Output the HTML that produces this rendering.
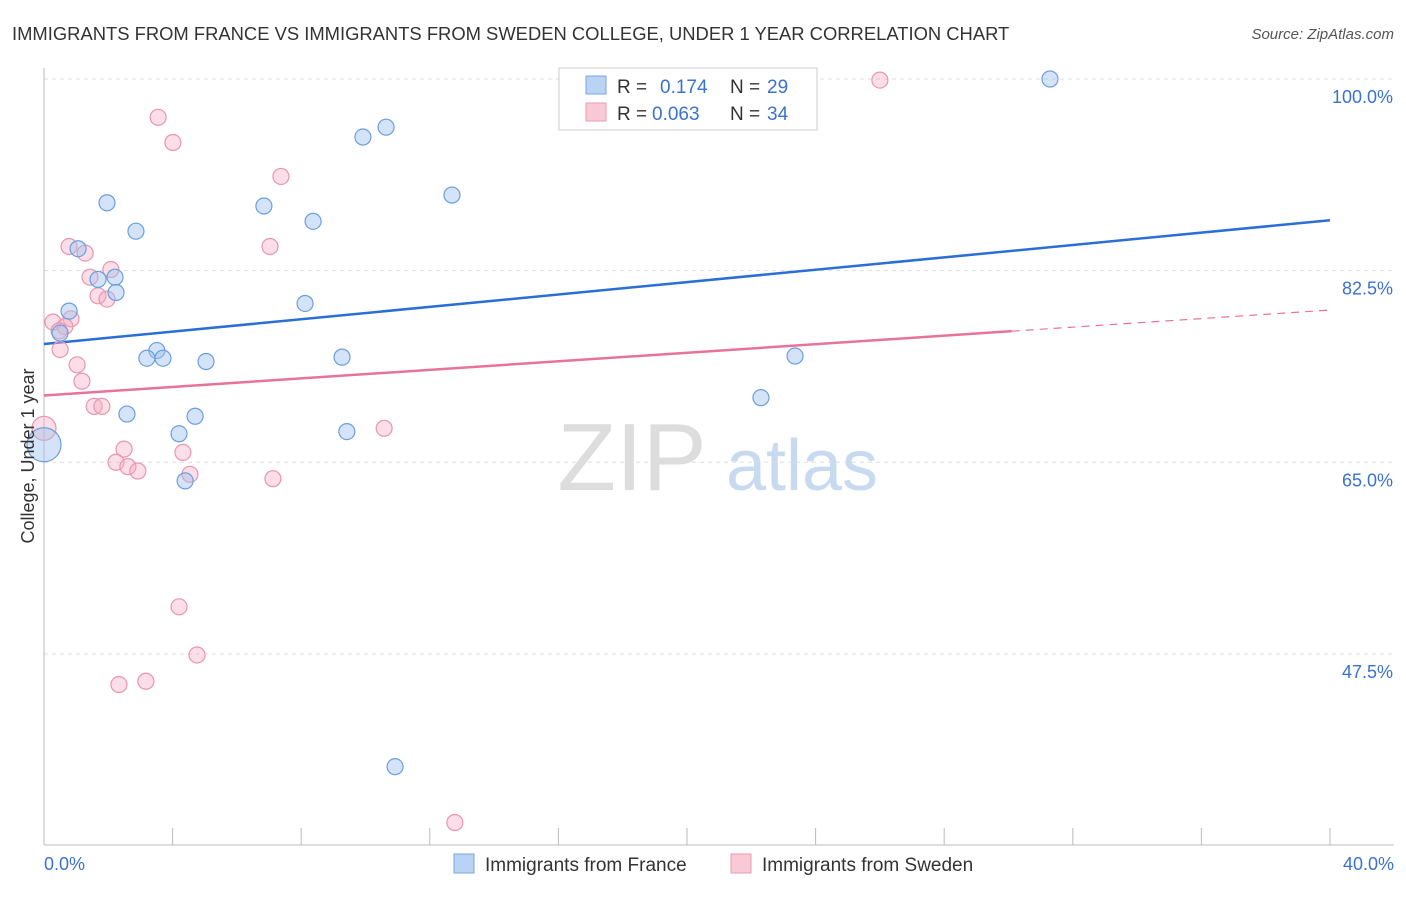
<!DOCTYPE html>
<html><head><meta charset="utf-8"><style>
body{margin:0;background:#fff;font-family:"Liberation Sans",sans-serif;}
svg text{font-family:"Liberation Sans",sans-serif;}
</style></head><body>
<svg id="chart" width="1406" height="892" viewBox="0 0 1406 892">
<text x="12" y="40" font-size="18.4" fill="#333">IMMIGRANTS FROM FRANCE VS IMMIGRANTS FROM SWEDEN COLLEGE, UNDER 1 YEAR CORRELATION CHART</text>
<text x="1394" y="39" font-size="15" fill="#555" font-style="italic" text-anchor="end">Source: ZipAtlas.com</text>
<g>
<text x="632" y="490" font-size="96" fill="#ddd" font-family="Liberation Serif, serif" text-anchor="middle">ZIP</text>
<text x="802" y="490" font-size="72" fill="#c8daf0" text-anchor="middle">atlas</text>
</g>
<g id="grid"></g>
<g id="axes"></g>
<g id="lines"></g>
<g id="points"></g>
<text transform="translate(34,456) rotate(-90)" font-size="18" fill="#333" text-anchor="middle">College, Under 1 year</text>
<text x="44" y="870" font-size="18" fill="#3a72d0">0.0%</text>
<text x="1394" y="870" font-size="18" fill="#3a72d0" text-anchor="end">40.0%</text>
<g>
<rect x="559" y="68" width="258" height="62" fill="#fff" stroke="#ccc"/>
<rect x="586" y="76" width="20" height="18" fill="#b9d3f5" stroke="#7aa6e0"/>
<rect x="586" y="103" width="20" height="18" fill="#f9c9d6" stroke="#eb9ab2"/>
<text x="617" y="93" font-size="19" fill="#333">R = </text><text x="660" y="93" font-size="19" fill="#3a72d0">0.174</text>
<text x="730" y="93" font-size="19" fill="#333">N = </text><text x="767" y="93" font-size="19" fill="#3a72d0">29</text>
<text x="617" y="120" font-size="19" fill="#333">R = </text><text x="652" y="120" font-size="19" fill="#3a72d0">0.063</text>
<text x="730" y="120" font-size="19" fill="#333">N = </text><text x="767" y="120" font-size="19" fill="#3a72d0">34</text>
</g>
<g>
<rect x="454" y="854" width="20" height="19" fill="#b9d3f5" stroke="#7aa6e0"/>
<text x="485" y="871" font-size="19" fill="#333">Immigrants from France</text>
<rect x="731" y="854" width="20" height="19" fill="#f9c9d6" stroke="#eb9ab2"/>
<text x="762" y="871" font-size="19" fill="#333">Immigrants from Sweden</text>
</g>
</svg>
<script>
const yTicks=[100,82.5,65,47.5];
const xTicks=[0,4,8,12,16,20,24,28,32,36,40];
const franceX=[0,1.96,2.86,1.06,2.21,1.68,2.24,0.78,0.50,3.51,3.20,3.70,5.04,2.58,4.70,4.20,4.39,6.84,8.37,8.12,9.92,10.64,12.69,9.27,9.42,10.92,22.30,23.36,31.29];
const franceY=[66.6,88.7,86.1,84.5,81.9,81.7,80.5,78.8,76.8,75.2,74.5,74.5,74.2,69.4,69.2,67.6,63.3,88.4,87.0,79.5,94.7,95.6,89.4,74.6,67.8,37.2,70.9,74.7,100.0];
const swedenX=[26.00,3.55,4.01,7.37,7.03,0.78,1.28,2.08,1.43,1.68,1.96,0.28,0.84,0.65,0.47,0.50,1.03,1.18,1.56,1.80,0,2.49,4.32,2.24,2.61,2.92,4.54,7.12,10.58,4.20,4.76,2.33,3.17,12.78];
const swedenY=[99.9,96.5,94.2,91.1,84.7,84.7,84.1,82.6,81.9,80.2,79.9,77.8,78.1,77.4,77.0,75.3,73.9,72.4,70.1,70.1,68.1,66.2,65.9,65.0,64.6,64.2,63.9,63.5,68.1,51.8,47.4,44.7,45.0,32.1];
const franceTrend=[75.8,87.1];
const swedenTrend=[71.1,78.9];
const NS='http://www.w3.org/2000/svg';
function X(v){return 44+v/40*1286;}
function Y(v){return 79+(100-v)*10.95;}
function mk(tag,attrs,parent){const e=document.createElementNS(NS,tag);for(const k in attrs)e.setAttribute(k,attrs[k]);document.getElementById(parent).appendChild(e);return e;}
yTicks.forEach(t=>{
 const l=mk('line',{x1:44,x2:1394,y1:Y(t),y2:Y(t),stroke:'#ddd','stroke-dasharray':'4,4'},'grid');
 
 
 const tx=mk('text',{x:1393,y:Y(t)+24,'font-size':18,fill:'#3a72d0','text-anchor':'end'},'grid');
 tx.textContent=t.toFixed(1)+'%';
 
 
});
let a=mk('line',{x1:44,x2:44,y1:68,y2:845,stroke:'#bbb'},'axes');


a=mk('line',{x1:44,x2:1394,y1:845,y2:845,stroke:'#bbb'},'axes');


xTicks.forEach(t=>{
 const l=mk('line',{x1:X(t),x2:X(t),y1:828,y2:845,stroke:'#bbb'},'axes');
 
 
});
let ln=mk('line',{x1:X(0),y1:Y(franceTrend[0]),x2:X(40),y2:Y(franceTrend[1]),stroke:'#2a6fd6','stroke-width':2.5},'lines');


const sEnd=30.1, sMid=swedenTrend[0]+(swedenTrend[1]-swedenTrend[0])*sEnd/40;
ln=mk('line',{x1:X(0),y1:Y(swedenTrend[0]),x2:X(sEnd),y2:Y(sMid),stroke:'#e8739a','stroke-width':2.5},'lines');


ln=mk('line',{x1:X(sEnd),y1:Y(sMid),x2:X(40),y2:Y(swedenTrend[1]),stroke:'#e8739a','stroke-width':1.2,'stroke-dasharray':'8,6'},'lines');


swedenX.forEach((x,i)=>{
 const c=mk('circle',{cx:X(x),cy:Y(swedenY[i]),r:(x===0?12:8),fill:'rgba(244,172,194,0.4)',stroke:'#e995ae','stroke-width':1.2},'points');
 
 
});
franceX.forEach((x,i)=>{
 const c=mk('circle',{cx:X(x),cy:Y(franceY[i]),r:(x===0?17:8),fill:'rgba(160,194,238,0.45)',stroke:'#6a9fe0','stroke-width':1.2},'points');
 
 
});
</script>
</body></html>
